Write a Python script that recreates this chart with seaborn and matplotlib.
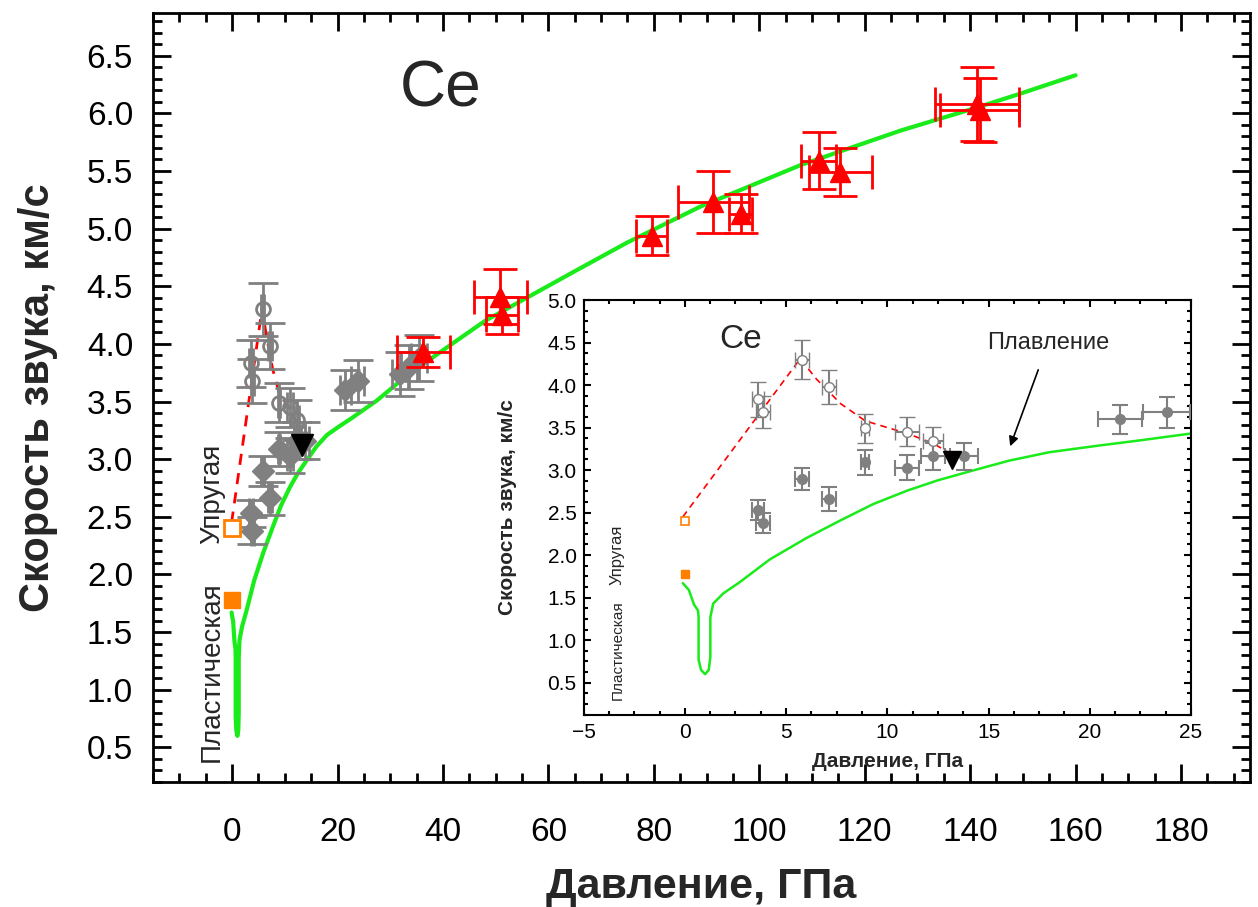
import matplotlib
matplotlib.use("Agg")
import matplotlib.pyplot as plt
from matplotlib.ticker import MultipleLocator, FormatStrFormatter
import seaborn as sns

# кривая плавления
melt_p = [-0.1, 0.2, 0.45, 0.65, 0.68, 0.68, 0.8, 1.0, 1.18, 1.26, 1.26, 1.4, 1.9, 2.7,
          4.2, 6.0, 7.7, 9.3, 11.0, 12.5, 14.0, 16.0, 18.0, 20.5, 22.5, 25.0, 27.5,
          33.0, 41.4, 48.0, 55.9, 65.0, 75.0, 88.8, 107.8, 126.8, 141.3, 149.5, 160.0]
melt_v = [1.67, 1.59, 1.42, 1.35, 1.27, 0.77, 0.65, 0.60, 0.65, 0.80, 1.27, 1.43, 1.55, 1.68,
          1.95, 2.20, 2.41, 2.60, 2.76, 2.88, 2.98, 3.11, 3.21, 3.29, 3.35, 3.43, 3.51,
          3.72, 3.99, 4.20, 4.40, 4.63, 4.88, 5.19, 5.55, 5.85, 6.05, 6.17, 6.33]

# упругая волна (открытые символы)
open_p = [3.6, 3.86, 5.79, 7.14, 8.91, 10.99, 12.25]
open_v = [3.83, 3.68, 4.30, 3.98, 3.49, 3.45, 3.34]
open_dp = [0.3, 0.35, 0.35, 0.35, 0.2, 0.6, 0.5]
open_dv = [0.2, 0.19, 0.23, 0.2, 0.17, 0.17, 0.17]

# пластическая волна (закрашенные символы)
fill_p = [3.6, 3.86, 5.79, 7.14, 8.91, 10.99, 12.25, 13.8, 21.5, 23.8, 31.9, 33.5, 35.5]
fill_v = [2.53, 2.38, 2.90, 2.66, 3.09, 3.03, 3.16, 3.16, 3.60, 3.68, 3.74, 3.80, 3.88]
fill_dp = [0.3, 0.35, 0.35, 0.35, 0.2, 0.6, 0.6, 0.7, 1.1, 1.15, 1.5, 1.5, 1.5]
fill_dv = [0.12, 0.12, 0.13, 0.14, 0.15, 0.15, 0.16, 0.16, 0.17, 0.18, 0.19, 0.19, 0.2]

# высокие давления
red_p = [36.3, 50.9, 51.2, 79.6, 91.3, 96.5, 111.3, 115.4, 141.3, 141.8]
red_v = [3.93, 4.41, 4.25, 4.94, 5.23, 5.13, 5.59, 5.49, 6.08, 6.03]
red_dp = [5.0, 5.0, 3.0, 2.9, 6.8, 2.2, 3.3, 6.0, 8.0, 7.5]
red_dv = [0.13, 0.24, 0.16, 0.17, 0.27, 0.17, 0.25, 0.21, 0.32, 0.28]

# пунктир через упругие точки
dash_p = [-0.1, 5.7, 6.5, 7.7, 8.9, 10.0, 11.0, 12.3, 13.2]
dash_v = [2.45, 4.31, 4.07, 3.78, 3.58, 3.50, 3.43, 3.31, 3.18]

melt_point = (13.2, 3.12)
elastic_zero = (0.0, 2.40)
plastic_zero = (0.0, 1.78)

GRAY = "#808080"
GREEN = "#1aeb1a"
RED = "#ff0000"
ORANGE = "#ff7f00"

sns.set_style("ticks")
plt.rcParams["font.family"] = ["Liberation Sans", "DejaVu Sans"]

fig = plt.figure(figsize=(12.58, 9.07), dpi=100)
W, H = 1258, 907
ax = fig.add_axes([152.5 / W, 1 - 782 / H, (1250 - 152.5) / W, (782 - 13) / H])
ins = fig.add_axes([583.6 / W, 1 - 715 / H, (1191 - 583.6) / W, (715 - 300) / H])


def style_axes(a, lw, major, minor, fs):
    for s in a.spines.values():
        s.set_linewidth(lw)
        s.set_color("black")
    a.tick_params(which="both", direction="in", top=True, right=True,
                  width=lw, colors="black", labelsize=fs)
    a.tick_params(which="major", length=major)
    a.tick_params(which="minor", length=minor)
    a.tick_params(axis="both", which="both", labeltop=False, labelright=False)


# ---- основной график ----
sns.lineplot(x=melt_p, y=melt_v, ax=ax, color=GREEN, lw=3, sort=False, estimator=None, zorder=2)
sns.lineplot(x=dash_p, y=dash_v, ax=ax, color=RED, lw=2, ls=(0, (4, 3)), sort=False,
             estimator=None, zorder=3)
ax.errorbar(open_p, open_v, xerr=open_dp, yerr=open_dv, fmt="o", ms=10, mfc="none",
            mec=GRAY, mew=2, ecolor=GRAY, elinewidth=2, capsize=11, capthick=2, zorder=4)
ax.errorbar(fill_p, fill_v, xerr=fill_dp, yerr=fill_dv, fmt="D", ms=11, mfc=GRAY,
            mec=GRAY, ecolor=GRAY, elinewidth=2, capsize=11, capthick=2, zorder=4)
ax.errorbar(red_p, red_v, xerr=red_dp, yerr=red_dv, fmt="^", ms=14, color=RED,
            ecolor=RED, elinewidth=2, capsize=12, capthick=2, zorder=5)
ax.plot(*melt_point, "v", ms=16, color="black", zorder=6)
ax.plot(*elastic_zero, "s", ms=11, mfc="white", mec=ORANGE, mew=2, zorder=6)
ax.plot(*plastic_zero, "s", ms=12, color=ORANGE, zorder=6)

ax.set_xlim(-15.1, 193.1)
ax.set_ylim(0.2, 6.87)
ax.xaxis.set_major_locator(MultipleLocator(20))
ax.xaxis.set_minor_locator(MultipleLocator(5))
ax.yaxis.set_major_locator(MultipleLocator(0.5))
ax.yaxis.set_minor_locator(MultipleLocator(0.1))
ax.yaxis.set_major_formatter(FormatStrFormatter("%.1f"))
style_axes(ax, 2, 13, 6.5, 24)
ax.tick_params(axis="x", pad=25)
ax.tick_params(axis="y", pad=14)
ax.set_xlabel("Давление, ГПа", fontsize=31, fontweight="bold")
ax.set_ylabel("Скорость звука, км/с", fontsize=30, fontweight="bold")
ax.xaxis.set_label_coords(0.5, -0.11)
ax.yaxis.set_label_coords(-0.086, 0.5)

ax.text(39.5, 6.21, "Ce", fontsize=46, ha="center", va="center")
ax.text(-3.8, 2.70, "Упругая", fontsize=20, rotation=90, ha="center", va="center")
ax.text(-3.8, 1.16, "Пластическая", fontsize=20, rotation=90, ha="center", va="center")

# ---- вставка ----
ins.set_facecolor("white")
sns.lineplot(x=melt_p, y=melt_v, ax=ins, color=GREEN, lw=1.8, sort=False, estimator=None, zorder=2)
sns.lineplot(x=dash_p, y=dash_v, ax=ins, color=RED, lw=1.2, ls=(0, (4, 3)), sort=False,
             estimator=None, zorder=3)
ins.errorbar(open_p, open_v, xerr=open_dp, yerr=open_dv, fmt="o", ms=7, mfc="white",
             mec=GRAY, mew=1, ecolor=GRAY, elinewidth=1.5, capsize=6, capthick=1.5, zorder=4)
ins.errorbar(fill_p, fill_v, xerr=fill_dp, yerr=fill_dv, fmt="o", ms=7, mfc=GRAY,
             mec=GRAY, ecolor=GRAY, elinewidth=1.5, capsize=6, capthick=1.5, zorder=4)
ins.plot(*melt_point, "v", ms=13, color="black", zorder=6)
ins.plot(*elastic_zero, "s", ms=6, mfc="white", mec=ORANGE, mew=1.2, zorder=6)
ins.plot(*plastic_zero, "s", ms=6, color=ORANGE, zorder=6)

ins.set_xlim(-5, 25)
ins.set_ylim(0.12, 5.0)
ins.xaxis.set_major_locator(MultipleLocator(5))
ins.xaxis.set_minor_locator(MultipleLocator(1.25))
ins.yaxis.set_major_locator(MultipleLocator(0.5))
ins.yaxis.set_minor_locator(MultipleLocator(0.125))
ins.yaxis.set_major_formatter(FormatStrFormatter("%.1f"))
style_axes(ins, 1.5, 5, 3, 15)
ins.tick_params(axis="x", pad=6)
ins.tick_params(axis="y", pad=5)
ins.set_xlabel("Давление, ГПа", fontsize=15, fontweight="bold")
ins.set_ylabel("Скорость звука, км/с", fontsize=15, fontweight="bold")
ins.xaxis.set_label_coords(0.5, -0.09)
ins.yaxis.set_label_coords(-0.11, 0.5)

ins.text(2.74, 4.54, "Ce", fontsize=24, ha="center", va="center")
ins.text(-3.33, 2.0, "Упругая", fontsize=12, rotation=90, ha="center", va="center")
ins.text(-3.33, 0.88, "Пластическая", fontsize=11, rotation=90, ha="center", va="center")
ins.annotate("Плавление", xy=(16.07, 3.28), xytext=(17.95, 4.5), fontsize=17,
             ha="center", va="center",
             arrowprops=dict(arrowstyle="-|>", color="black", lw=1.2,
                             shrinkA=10, shrinkB=0, mutation_scale=14))

fig.savefig("out.png", dpi=100, facecolor="white")
